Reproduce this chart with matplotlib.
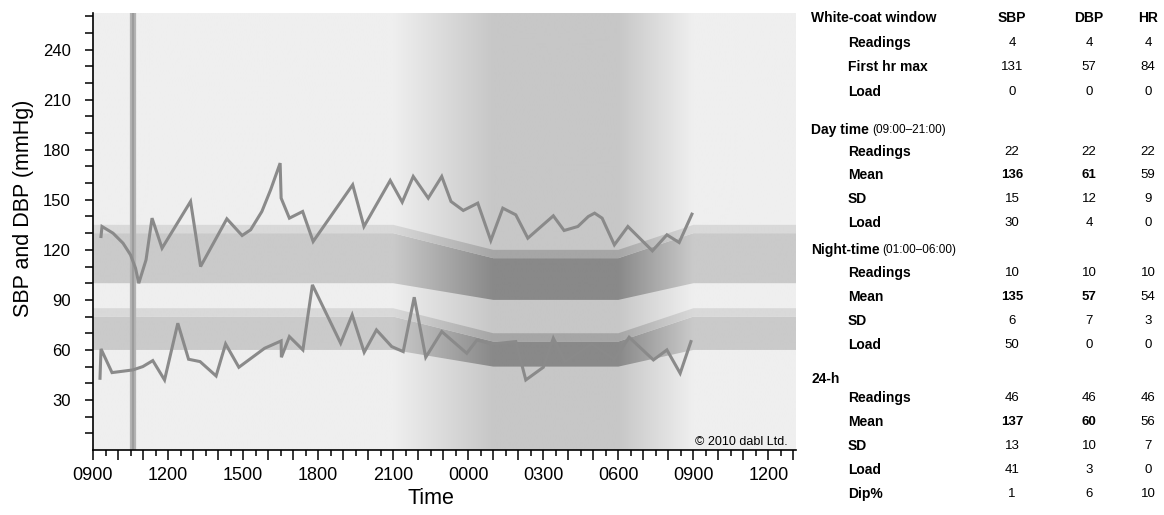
import numpy as np
import matplotlib
matplotlib.use("Agg")
import matplotlib.pyplot as plt

plt.rcParams['font.family'] = ['Liberation Sans', 'DejaVu Sans']

# ---------------- data (time in hours after 09:00) ----------------
sbp_t = [0.32, 0.36, 0.8, 1.2, 1.5, 1.7, 1.83, 2.12, 2.36, 2.76, 3.9, 4.3, 5.35, 5.96,
         6.3, 6.75, 7.1, 7.48, 7.52, 7.85, 8.38, 8.8, 10.38, 10.83, 11.88, 12.36, 12.8,
         13.4, 13.94, 14.31, 14.8, 15.38, 15.9, 16.38, 16.9, 17.38, 18.4, 18.83, 19.38,
         19.8, 20.05, 20.35, 20.84, 21.38, 22.36, 22.94, 23.43, 23.94]
sbp = [128, 134, 130, 124, 117, 109, 100, 114, 139, 121, 149, 110, 138.6, 128.6,
       132, 143, 156, 172, 151, 139, 143, 125, 159, 134, 161.6, 148.6, 164,
       151, 164, 149, 143.6, 148, 125.6, 145, 141, 127, 140.4, 131.6, 134,
       140, 142, 139, 123, 134, 119.4, 129, 124.4, 141.4]

dbp_t = [0.28, 0.32, 0.76, 1.59, 1.99, 2.39, 2.86, 3.39, 3.82, 4.28, 4.92, 5.3, 5.83,
         6.86, 7.52, 7.53, 7.85, 8.39, 8.77, 9.9, 10.36, 10.84, 11.33, 11.94, 12.4,
         12.84, 13.3, 13.94, 14.94, 15.35, 15.95, 16.9, 17.3, 18.0, 18.4, 18.87, 19.93,
         20.84, 21.43, 22.4, 22.94, 23.47, 23.9]
dbp = [43, 60.6, 46.4, 48, 50, 53.6, 42, 76, 54.4, 53, 44.4, 63.6, 49.6,
       61, 65.4, 55.6, 68, 60, 99, 64, 81, 58.6, 72, 62, 59,
       91.6, 55.6, 71, 58, 66, 63.5, 65, 42, 49.6, 67, 53, 63.6,
       54.4, 67.6, 54, 60, 46, 65]

# reference bands (day / night thresholds)
band_t = [0, 12, 16, 21, 24, 28.1]
sbp_low = [100, 100, 90, 90, 100, 100]
sbp_mid = [130, 130, 115, 115, 130, 130]
sbp_high = [135, 135, 120, 120, 135, 135]
dbp_low = [60, 60, 50, 50, 60, 60]
dbp_mid = [80, 80, 65, 65, 80, 80]
dbp_high = [85, 85, 70, 70, 85, 85]
night_level = [0, 0, 1, 1, 0, 0]

whitecoat_t = 1.6

xtick_hours = [0, 3, 6, 9, 12, 15, 18, 21, 24, 27]
xtick_labels = ["0900", "1200", "1500", "1800", "2100", "0000", "0300", "0600", "0900", "1200"]
ytick_vals = [30, 60, 90, 120, 150, 180, 210, 240]

# table
wc_rows = ["Readings", "First hr max", "Load"]
wc_sbp = [4, 131, 0]
wc_dbp = [4, 57, 0]
wc_hr = [4, 84, 0]
day_rows = ["Readings", "Mean", "SD", "Load"]
day_sbp = [22, 136, 15, 30]
day_dbp = [22, 61, 12, 4]
day_hr = [22, 59, 9, 0]
night_rows = ["Readings", "Mean", "SD", "Load"]
night_sbp = [10, 135, 6, 50]
night_dbp = [10, 57, 7, 0]
night_hr = [10, 54, 3, 0]
h24_rows = ["Readings", "Mean", "SD", "Load", "Dip%"]
h24_sbp = [46, 137, 13, 41, 1]
h24_dbp = [46, 60, 10, 3, 6]
h24_hr = [46, 56, 7, 0, 10]

# ---------------- figure ----------------
W, H = 1164, 515
fig = plt.figure(figsize=(W / 100, H / 100), dpi=100)
L, R, T, B = 93, 796, 13, 450
ax = fig.add_axes([L / W, 1 - B / H, (R - L) / W, (B - T) / H])
XMAX, YMAX = 28.1, 262
ax.set_xlim(0, XMAX)
ax.set_ylim(0, YMAX)

xs = np.linspace(0, XMAX, 1400)
f = np.interp(xs, band_t, night_level)


def gray_row(day, night):
    g = (day + (night - day) * f) / 255.0
    return np.dstack([g, g, g])[0:1]


ext = [0, XMAX, 0, YMAX]
ax.imshow(gray_row(239, 199), extent=ext, aspect='auto', interpolation='bilinear', zorder=0)

for low, high, dcol, ncol in [(sbp_low, sbp_mid, 202, 137), (sbp_mid, sbp_high, 217, 166),
                              (dbp_low, dbp_mid, 202, 137), (dbp_mid, dbp_high, 217, 166)]:
    poly = ax.fill_between(band_t, low, high, facecolor='none', edgecolor='none', zorder=1)
    im = ax.imshow(gray_row(dcol, ncol), extent=ext, aspect='auto', interpolation='bilinear', zorder=1)
    im.set_clip_path(poly.get_paths()[0], transform=ax.transData)

ax.axvline(whitecoat_t, color='#b3b3b3', lw=4.5, zorder=3)
ax.axvline(whitecoat_t, color='#9c9c9c', lw=1.6, zorder=3)

ax.plot(sbp_t, sbp, color='#8a8a8a', lw=2.2, zorder=5, solid_joinstyle='miter')
ax.plot(dbp_t, dbp, color='#8a8a8a', lw=2.2, zorder=5, solid_joinstyle='miter')

ax.set_aspect('auto')

# spines / ticks
for s in ['top', 'right']:
    ax.spines[s].set_visible(False)
for s in ['left', 'bottom']:
    ax.spines[s].set_linewidth(1.2)
    ax.spines[s].set_zorder(6)

ax.set_xticks(range(0, 29))
ax.set_xticklabels([xtick_labels[xtick_hours.index(h)] if h in xtick_hours else '' for h in range(0, 29)],
                   fontsize=13)
ax.set_xticks(np.arange(0.5, 28.1, 1.0), minor=True)
yt = list(range(10, 261, 10))
ax.set_yticks(yt)
ax.set_yticklabels([str(v) if v in ytick_vals else '' for v in yt], fontsize=12)
ax.tick_params(axis='x', which='major', length=7, width=1.1, pad=5, direction='out')
ax.tick_params(axis='x', which='minor', length=4, width=1.1, direction='out')
ax.tick_params(axis='y', which='major', length=6, width=1.1, pad=10, direction='out')

ax.set_ylabel("SBP and DBP (mmHg)", fontsize=15.5)
ax.yaxis.set_label_coords(-0.084, 0.554)
ax.set_xlabel("Time", fontsize=15.5)
ax.xaxis.set_label_coords(0.481, -0.086)

ax.text(0.9886, 0.0114, "\u00a9 2010 dabl Ltd.", transform=ax.transAxes, ha='right', va='baseline',
        fontsize=9, zorder=7)

# ---------------- table ----------------


def ftxt(x, y, s, **kw):
    return fig.text(x / W, 1 - y / H, s, va='center', **kw)


col_sbp, col_dbp, col_hr = 1012, 1089, 1148
x_sec, x_row = 811, 848
ftxt(x_sec, 18, "White-coat window", fontsize=10, fontweight='bold', ha='left')
for cx, lab in [(col_sbp, "SBP"), (col_dbp, "DBP"), (col_hr, "HR")]:
    ftxt(cx, 18, lab, fontsize=10, fontweight='bold', ha='center')

sections = [
    (None, None, wc_rows, wc_sbp, wc_dbp, wc_hr, [43, 67, 92]),
    ("Day time", "(09:00\u201321:00)", day_rows, day_sbp, day_dbp, day_hr, [152, 175, 199, 223]),
    ("Night-time", "(01:00\u201306:00)", night_rows, night_sbp, night_dbp, night_hr, [273, 297, 321, 345]),
    ("24-h", None, h24_rows, h24_sbp, h24_dbp, h24_hr, [398, 422, 446, 470, 494]),
]
sec_y = [None, 130, 250, 379]

fig.canvas.draw()
renderer = fig.canvas.get_renderer()
for (title, note, rows, vs, vd, vh, ys), sy in zip(sections, sec_y):
    if title is not None:
        t = ftxt(x_sec, sy, title, fontsize=10, fontweight='bold', ha='left')
        if note:
            bb = t.get_window_extent(renderer)
            ftxt(bb.x1 + 3, sy, note, fontsize=8.5, ha='left')
    for lab, a, b, c, y in zip(rows, vs, vd, vh, ys):
        ftxt(x_row, y, lab, fontsize=10, fontweight='bold', ha='left')
        bold = 'bold' if lab == "Mean" else 'normal'
        ftxt(col_sbp, y, str(a), fontsize=9.5, fontweight=bold, ha='center')
        ftxt(col_dbp, y, str(b), fontsize=9.5, fontweight=bold, ha='center')
        ftxt(col_hr, y, str(c), fontsize=9.5, ha='center')

fig.savefig("out.png", dpi=100)
